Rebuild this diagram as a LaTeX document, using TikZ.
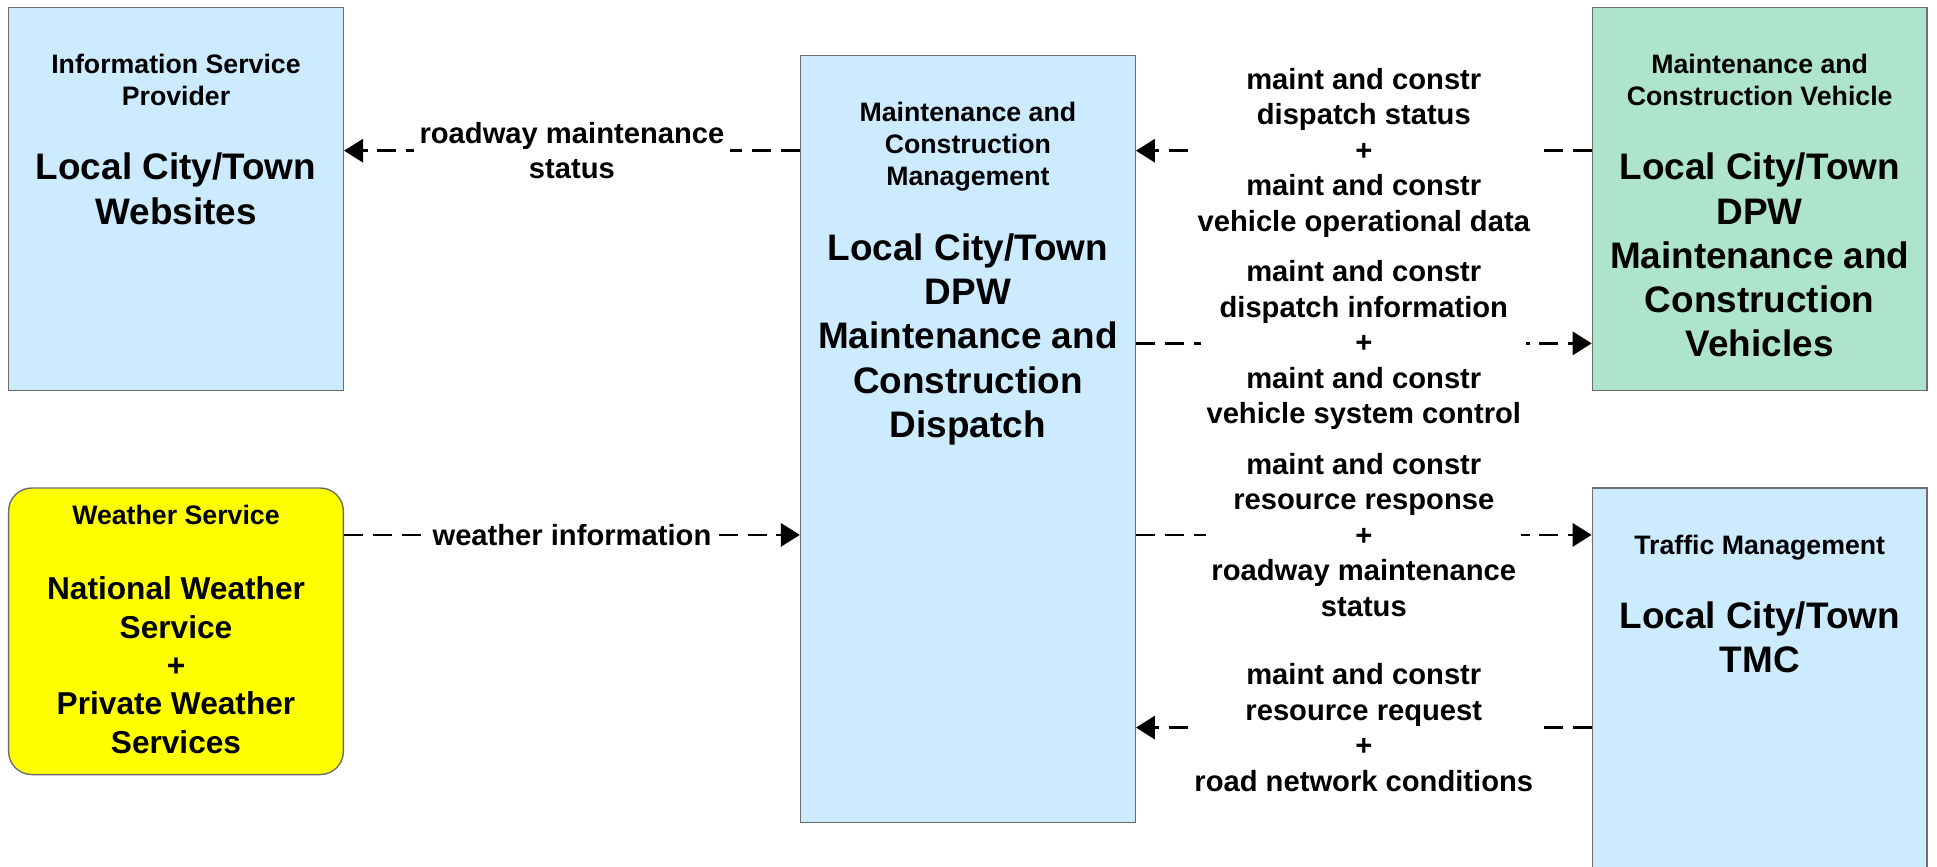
\documentclass[tikz,border=0pt]{standalone}
\usepackage{fontspec}
\setmainfont{Liberation Sans}
\usetikzlibrary{positioning, arrows.meta}

\definecolor{boxblue}{HTML}{CCEBFF}
\definecolor{boxgreen}{HTML}{AEE4CB}
\definecolor{boxyellow}{RGB}{255,255,0}
\definecolor{boxline}{HTML}{6E6E6E}

\begin{document}
\begin{tikzpicture}
\useasboundingbox (0,0) rectangle (19.37,-8.67);

\tikzset{
  element box/.style={
    draw=boxline,
    line width=0.4pt,
    fill=boxblue,
    minimum width=3.347cm,
    inner sep=0pt
  },
  class text/.style={font=\bfseries\fontsize{7.6}{9.1}\selectfont, align=center, inner sep=0pt},
  name text/.style={font=\bfseries\fontsize{10.5}{12.6}\selectfont, align=center, inner sep=0pt},
  flow/.style={
    line width=0.75pt,
    dash pattern=on 5.4pt off 2.8pt,
    -{Triangle[length=5.4pt, width=6.6pt]}
  },
  flow label/.style={font=\bfseries\fontsize{8.3}{10.1}\selectfont, align=center, fill=white, inner sep=1.5pt}
}

% elements
\node[element box, minimum height=3.83cm] (isp) at (1.76,-1.989) {};
\node[element box, minimum height=7.671cm] (mcm) at (9.679,-4.392) {};
\node[element box, fill=boxgreen, minimum height=3.83cm] (mcv) at (17.597,-1.989) {};
\node[element box, fill=boxyellow, rounded corners=0.23cm, minimum height=2.865cm] (ws) at (1.76,-6.313) {};
\node[element box, minimum height=3.92cm] (tmc) at (17.597,-6.84) {};

\node[class text, below=0.47cm of isp.north] (isp-class) {Information Service\\Provider};
\node[name text, below=1.457cm of isp.north] (isp-name) {Local City/Town\\Websites};

\node[class text, below=0.47cm of mcm.north] (mcm-class) {Maintenance and\\Construction\\Management};
\node[name text, below=1.778cm of mcm.north] (mcm-name) {Local City/Town\\DPW\\Maintenance and\\Construction\\Dispatch};

\node[class text, below=0.47cm of mcv.north] (mcv-class) {Maintenance and\\Construction Vehicle};
\node[name text, below=1.457cm of mcv.north] (mcv-name) {Local City/Town\\DPW\\Maintenance and\\Construction\\Vehicles};

\node[class text, below=0.17cm of ws.north] (ws-class) {Weather Service};
\node[name text, font=\bfseries\fontsize{9}{10.9}\selectfont, below=0.89cm of ws.north] (ws-name) {National Weather\\Service\\+\\Private Weather\\Services};

\node[class text, below=0.47cm of tmc.north] (tmc-class) {Traffic Management};
\node[name text, below=1.137cm of tmc.north] (tmc-name) {Local City/Town\\TMC};

% flows
\coordinate (lvl1) at (0,-1.507);
\coordinate (lvl2) at (0,-3.434);
\coordinate (lvl3) at (0,-5.349);
\coordinate (lvl4) at (0,-7.276);

\draw[flow] (mcm.west |- lvl1) -- node[flow label] (f1) {roadway maintenance\\status} (isp.east |- lvl1);
\draw[flow] (ws.east |- lvl3) -- node[flow label, inner sep=0.5pt] (f2) {weather information} (mcm.west |- lvl3);
\draw[flow] (mcv.west |- lvl1) -- node[flow label, yshift=-0.02cm] (f3) {maint and constr\\dispatch status\\+\\maint and constr\\vehicle operational data} (mcm.east |- lvl1);
\draw[flow] (mcm.east |- lvl2) -- node[flow label, yshift=-0.02cm] (f4) {maint and constr\\dispatch information\\+\\maint and constr\\vehicle system control} (mcv.west |- lvl2);
\draw[flow] (mcm.east |- lvl3) -- node[flow label] (f5) {maint and constr\\resource response\\+\\roadway maintenance\\status} (tmc.west |- lvl3);
\draw[flow] (tmc.west |- lvl4) -- node[flow label] (f6) {maint and constr\\resource request\\+\\road network conditions} (mcm.east |- lvl4);

\end{tikzpicture}
\end{document}
